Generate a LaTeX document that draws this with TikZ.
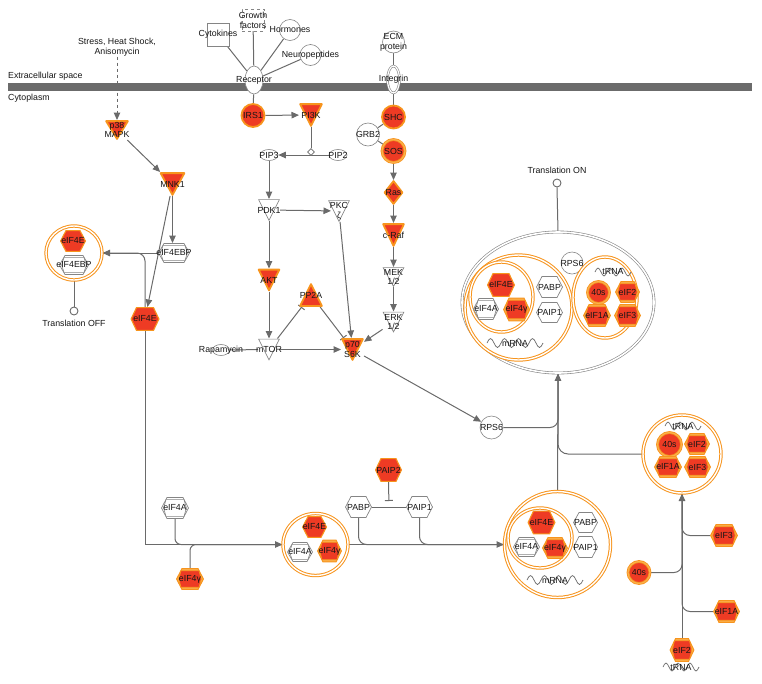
\documentclass[tikz,border=0pt]{standalone}
\usepackage{fontspec}
\setmainfont{Liberation Sans}
\usetikzlibrary{arrows.meta,shapes.geometric,calc}
\definecolor{rd}{HTML}{EE3B24}
\definecolor{org}{HTML}{F7941D}
\definecolor{org2}{HTML}{FAB04C}
\definecolor{ln}{HTML}{6A6A6A}
\definecolor{ol}{HTML}{858585}
\definecolor{mem}{HTML}{6B6B6B}
\definecolor{txt}{HTML}{161616}
\newcommand\dfont{\fontsize{8.8}{9.8}\selectfont}
\newcommand\hexp[2]{([xshift=#1]path picture bounding box.west) -- ([shift={(#2,-#1)}]path picture bounding box.north west) -- ([shift={(-#2,-#1)}]path picture bounding box.north east) -- ([xshift=-#1]path picture bounding box.east) -- ([shift={(-#2,#1)}]path picture bounding box.south east) -- ([shift={(#2,#1)}]path picture bounding box.south west) -- cycle}
\newcommand\itri[1]{([shift={(#1,-#1)}]path picture bounding box.north west) -- ([shift={(-#1,-#1)}]path picture bounding box.north east) -- ([yshift=#1]path picture bounding box.south) -- cycle}
\newcommand\utri[1]{([shift={(#1,#1)}]path picture bounding box.south west) -- ([shift={(-#1,#1)}]path picture bounding box.south east) -- ([yshift=-#1]path picture bounding box.north) -- cycle}
\newcommand\wavedraw[5]{\draw[ln, line width=0.7pt] ({#1-2*#3*#4},#2) \foreach \k in {1,...,#3} {sin ++(#4,-#5) cos ++(#4,#5) sin ++(#4,#5) cos ++(#4,-#5)};}
\pgfdeclarelayer{edges}
\pgfsetlayers{edges,main}
\tikzset{
  lab/.style={font=\dfont, text=txt, align=center, inner sep=0pt},
  tx/.style={label={[lab]center:#1}},
  sz/.style 2 args={minimum width=#1pt, minimum height=#2pt},
  shp/.style={rectangle, inner sep=0pt, outer sep=0pt},
  hexred/.style={shp, path picture={\draw[org, line width=1.1pt, fill=rd] \hexp{0.6pt}{6pt};}},
  hexred2/.style={shp, path picture={\draw[org, line width=1pt, fill=org2] \hexp{0.6pt}{6pt}; \draw[org, line width=0.7pt, fill=rd] \hexp{2.8pt}{5pt};}},
  hexw/.style={shp, path picture={\draw[ol, line width=0.7pt, fill=white] \hexp{0.5pt}{6pt};}},
  hexw2/.style={shp, path picture={\draw[ol, line width=0.7pt, fill=white] \hexp{0.5pt}{6pt}; \draw[ol, line width=0.6pt] \hexp{2.6pt}{5pt};}},
  trired/.style={shp, path picture={\draw[org, line width=1.8pt, fill=rd, line join=round] \itri{1.1pt};}},
  triw/.style={shp, path picture={\draw[ol, line width=0.7pt, fill=white] \itri{0.6pt};}},
  triup/.style={shp, path picture={\draw[org, line width=1.8pt, fill=rd, line join=round] \utri{1.1pt};}},
  diamred/.style={shp, path picture={\draw[org, line width=1.8pt, fill=rd, line join=round] ([yshift=-1.1pt]path picture bounding box.north) -- ([xshift=-1.1pt]path picture bounding box.east) -- ([yshift=1.1pt]path picture bounding box.south) -- ([xshift=1.1pt]path picture bounding box.west) -- cycle;}},
  cred/.style={circle, inner sep=0pt, fill=rd, draw=org, line width=1.8pt},
  cred2/.style={circle, inner sep=0pt, fill=rd, draw=org, double=org2, double distance=1.2pt, line width=0.8pt},
  cw/.style={circle, inner sep=0pt, draw=ol, fill=white, line width=0.6pt},
  ew/.style={ellipse, inner sep=0pt, draw=ol, fill=white, line width=0.6pt},
  cpx/.style={ellipse, inner sep=0pt, draw=org, fill=white, double=white, double distance=1.4pt, line width=1pt},
  gcpx/.style={ellipse, inner sep=0pt, draw=ol, fill=white, double=white, double distance=1.6pt, line width=0.6pt},
  ed/.style={draw=ln, line width=1pt},
  arr/.style={ed, -{Triangle[length=7.5pt,width=6.5pt]}},
  inh/.style={ed, -{Bar[width=8pt,line width=1pt]}},
  tsig/.style={circle, inner sep=0pt, draw=ln, fill=white, line width=0.9pt, minimum size=8pt},
}
\begin{document}
\begin{tikzpicture}[x=1pt,y=-1pt]
\useasboundingbox (0,0) rectangle (762,683);
% membrane
\fill[mem] (8,83) rectangle (752,91);
\node[lab, anchor=west] (extra) at (8,76) {Extracellular space};
\node[lab, anchor=west] (cytop) at (8,98) {Cytoplasm};
\node[lab] (stress) at (117,47.5) {Stress, Heat Shock,\\Anisomycin};
% ligands and receptors
\node[shp, draw=ol, fill=white, line width=0.6pt, sz={22}{23}, tx=Cytokines] (cytok) at (218,34.5) {};
\node[shp, draw=ol, dashed, fill=white, line width=0.6pt, sz={22}{22}, tx={Growth\\factors}] (growth) at (253,20) {};
\node[cw, minimum size=21pt, tx=Hormones] (horm) at (290,30) {};
\node[cw, minimum size=21pt, tx=Neuropeptides] (neuro) at (310.5,55) {};
\node[ew, sz={18}{28}, tx=Receptor] (recep) at (254,80) {};
\node[cw, minimum size=22pt, tx={ECM\\protein}] (ecm) at (393.5,42) {};
\node[ellipse, inner sep=0pt, draw=ol, fill=white, double=white, double distance=1.2pt, line width=0.6pt, sz={12}{27}, tx=Integrin] (integ) at (393.5,79.5) {};
% left branch
\node[trired, sz={24}{20}, tx={p38\\MAPK}] (p38) at (117,130) {};
\node[trired, sz={26}{24}, tx=MNK1] (mnk1) at (172.5,184) {};
\node[hexw2, sz={32}{20}, tx=eIF4EBP] (eif4ebp) at (174,253) {};
\node[hexred, sz={29}{24}, tx=eIF4E] (eif4e) at (145,319) {};
\node[cpx, minimum width=56pt, minimum height=54pt] (lc) at (74,253) {};
\node[hexred, sz={26}{22}, tx=eIF4E] (lc4e) at (73,241) {};
\node[hexw2, sz={30}{20}, tx=eIF4EBP] (lcbp) at (74,265) {};
\node[tsig] (toff) at (74,311) {};
\node[lab] (tofft) at (74,323.5) {Translation OFF};
% PI3K branch
\node[cred, minimum size=23pt, tx=IRS1] (irs1) at (253,115.5) {};
\node[trired, sz={24}{24}, tx=PI3K] (pi3k) at (311,115) {};
\node[diamond, draw=ln, fill=white, inner sep=0pt, minimum size=7pt, line width=0.6pt] (cat) at (311,152) {};
\node[ew, sz={18}{11}, tx=PIP3] (pip3) at (269,155) {};
\node[ew, sz={18}{11}, tx=PIP2] (pip2) at (338,155) {};
\node[triw, sz={22}{22}, tx=PDK1] (pdk1) at (269,210) {};
\node[triw, sz={22}{22}, tx={PKC\\ζ}] (pkc) at (339,211) {};
\node[trired, sz={23}{23}, tx=AKT] (akt) at (269,280) {};
\node[triw, sz={22}{22}, tx=mTOR] (mtor) at (269,349.5) {};
\node[triup, sz={24}{24}, tx=PP2A] (pp2a) at (311,295) {};
\node[trired, sz={23}{23}, tx={p70\\S6K}] (p70) at (352.5,349.5) {};
\node[ew, sz={17}{11}, tx=Rapamycin] (rapa) at (221,350) {};
% Ras branch
\node[cred, minimum size=23pt, tx=SHC] (shc) at (393.5,117) {};
\node[cw, minimum size=23pt, tx=GRB2] (grb2) at (368,134.5) {};
\node[cred2, minimum size=23pt, tx=SOS] (sos) at (393.5,151) {};
\node[diamred, sz={20}{25}, tx=Ras] (ras) at (393.5,192.5) {};
\node[trired, sz={23}{24}, tx=c-Raf] (craf) at (393.5,235) {};
\node[triw, sz={22}{20}, tx={MEK\\1/2}] (mek) at (393.5,277) {};
\node[triw, sz={22}{21}, tx={ERK\\1/2}] (erk) at (393.5,322) {};
\node[cw, minimum size=23pt, tx=RPS6] (rps6b) at (491.5,427.5) {};
% lower left
\node[hexw2, sz={28}{22}, tx=eIF4A] (eif4al) at (175,508) {};
\node[hexred2, sz={28}{22}, tx=eIF4γ] (eif4gl) at (190,579) {};
\node[cpx, minimum width=65pt, minimum height=62pt] (midc) at (315.5,544.5) {};
\node[hexred, sz={25}{22}, tx=eIF4E] (mid4e) at (314.5,527) {};
\node[hexw2, sz={26}{20}, tx=eIF4A] (mid4a) at (300,552) {};
\node[hexred2, sz={25}{23}, tx=eIF4γ] (mid4g) at (329.5,551) {};
\node[hexred, sz={27}{24}, tx=PAIP2] (paip2) at (388.5,470) {};
\node[hexw, sz={27}{22}, tx=PABP] (pabpl) at (358.5,507) {};
\node[hexw, sz={27}{22}, tx=PAIP1] (paip1l) at (419.5,507) {};
% bottom big complex
\node[cpx, minimum size=106pt] (bigc) at (557.5,544.5) {};
\node[cpx, minimum width=64pt, minimum height=60pt] (bigi) at (540,538) {};
\node[hexred, sz={28}{24}, tx=eIF4E] (big4e) at (541.5,522.5) {};
\node[hexw2, sz={27}{20}, tx=eIF4A] (big4a) at (526.5,547) {};
\node[hexred2, sz={26}{22}, tx=eIF4γ] (big4g) at (555,548) {};
\node[hexw, sz={25}{21}, tx=PABP] (bigpabp) at (585.5,522.5) {};
\node[hexw, sz={25}{22}, tx=PAIP1] (bigpaip1) at (585.5,547) {};
\wavedraw{555}{580}{4}{3.5}{4.5}
\node[lab] (bigmrna) at (555,580) {mRNA};
% top complex
\node[gcpx, minimum width=192pt, minimum height=141pt] (topell) at (558,302.5) {};
\node[cpx, minimum width=107pt, minimum height=105pt] (topl) at (518.5,307.5) {};
\node[cpx, minimum width=63pt, minimum height=70pt] (topi) at (501.5,297) {};
\node[hexred, sz={28}{24}, tx=eIF4E] (top4e) at (501,285) {};
\node[hexw2, sz={26}{22}, tx=eIF4A] (top4a) at (486,309) {};
\node[hexred2, sz={27}{24}, tx=eIF4γ] (top4g) at (516.5,309.5) {};
\node[hexw, sz={27}{22}, tx=PABP] (toppabp) at (549.5,287) {};
\node[hexw, sz={27}{21}, tx=PAIP1] (toppaip1) at (549.5,312.5) {};
\wavedraw{515}{343}{4}{3.5}{4.5}
\node[lab] (topmrna) at (515,343) {mRNA};
\node[cw, minimum size=22pt, tx=RPS6] (toprps6) at (572,263) {};
\node[cpx, minimum width=64pt, minimum height=81pt] (toptr) at (605,297.5) {};
\wavedraw{613}{272}{3}{3}{4}
\node[lab] (toptrna) at (613,272) {tRNA};
\node[cred2, minimum size=22pt, tx=40s] (top40s) at (598.5,292.5) {};
\node[hexred2, sz={25}{22}, tx=eIF2] (topeif2) at (627.5,292) {};
\node[hexred2, sz={28}{23}, tx=eIF1A] (topeif1a) at (597,315.5) {};
\node[hexred2, sz={27}{23}, tx=eIF3] (topeif3) at (627.5,315.5) {};
\node[tsig] (ton) at (557,183) {};
\node[lab] (tont) at (557,170) {Translation ON};
% right tRNA complex
\node[cpx, minimum size=78pt] (trnac) at (682,454) {};
\wavedraw{683}{426}{3}{3}{4}
\node[lab] (trtrna) at (683,426) {tRNA};
\node[cred2, minimum size=24pt, tx=40s] (tr40s) at (669.5,444.5) {};
\node[hexred2, sz={26}{22}, tx=eIF2] (treif2) at (697,444) {};
\node[hexred2, sz={28}{22}, tx=eIF1A] (treif1a) at (668,467) {};
\node[hexred2, sz={27}{22}, tx=eIF3] (treif3) at (697.5,467) {};
\node[hexred2, sz={28}{23}, tx=eIF3] (eif3r) at (724,535.5) {};
\node[cred2, minimum size=22pt, tx=40s] (s40r) at (639,572.5) {};
\node[hexred2, sz={27}{23}, tx=eIF1A] (eif1ar) at (726.5,611.5) {};
\node[hexred2, sz={25}{24}, tx=eIF2] (eif2r) at (682,650) {};
\wavedraw{681}{667}{3}{3}{4}
\node[lab] (brtrna) at (681,667) {tRNA};
% edges
\begin{pgfonlayer}{edges}
\draw[arr, dashed] (stress.south) -- (p38.north);
\draw[arr] (p38) -- (mnk1);
\draw[arr] (mnk1.south) -- (mnk1.south |- eif4ebp.north);
\draw[arr] (mnk1) -- (eif4e);
\draw[arr] (eif4ebp.west) -- (lc.east);
\draw[ed, rounded corners=8pt] (eif4e.north) |- (lc.east);
\draw[ed] (lc.south) -- (toff.north);
\draw[ed] (cytok) -- (recep);
\draw[ed] (growth) -- (recep);
\draw[ed] (horm) -- (recep);
\draw[ed] (neuro) -- (recep);
\draw[ed] (recep) -- (irs1);
\draw[arr] (irs1) -- (pi3k);
\draw[ed] (pi3k.south) -- (cat.north);
\draw[arr] (pip2.west) -- (pip3.east);
\draw[arr] (pip3.south) -- (pdk1.north);
\draw[arr, shorten >=-3pt] (pdk1) -- (pkc);
\draw[arr] (pdk1.south) -- (akt.north);
\draw[arr] (akt.south) -- (mtor.north);
\draw[inh] (mtor) -- (pp2a);
\draw[inh] (pp2a) -- (p70);
\draw[arr] (mtor) -- (p70);
\draw[ed] (rapa) -- (mtor);
\draw[arr] (pkc) -- (p70);
\draw[arr] (erk) -- (p70);
\draw[ed] (ecm) -- (integ);
\draw[ed] (integ) -- (shc);
\draw[ed] (shc) -- (grb2);
\draw[ed] (grb2) -- (sos);
\draw[arr] (sos) -- (ras);
\draw[arr] (ras) -- (craf);
\draw[arr] (craf) -- (mek);
\draw[arr] (mek) -- (erk);
\draw[arr] (p70) -- (rps6b);
\draw[arr] (eif4e.south) |- (midc.west);
\draw[ed, rounded corners=6pt] (eif4al.south) |- (midc.west);
\draw[ed, rounded corners=6pt] (eif4gl.north) |- (midc.west);
\draw[arr] (midc.east) -- (bigc.west);
\draw[ed, rounded corners=8pt] (pabpl.south) |- (bigc.west);
\draw[ed, rounded corners=8pt] (paip1l.south) |- (bigc.west);
\draw[ed] (pabpl.east) -- (paip1l.west);
\coordinate (pjoin) at ($(pabpl.east)!0.5!(paip1l.west)$);
\draw[inh, shorten >=6pt] (paip2.south) -- (pjoin);
\draw[arr] (bigc.north) -- (topell.south);
\draw[ed, rounded corners=8pt] (rps6b.east) -| (topell.south);
\draw[ed, rounded corners=10pt] (trnac.west) -| (topell.south);
\draw[ed] (topell.north) -- (ton.south);
\draw[arr] (eif2r.north) -- (trnac.south);
\draw[ed, rounded corners=8pt] (eif3r.west) -| (trnac.south);
\draw[ed, rounded corners=8pt] (s40r.east) -| (trnac.south);
\draw[ed, rounded corners=8pt] (eif1ar.west) -| (trnac.south);
\end{pgfonlayer}
\end{tikzpicture}
\end{document}
